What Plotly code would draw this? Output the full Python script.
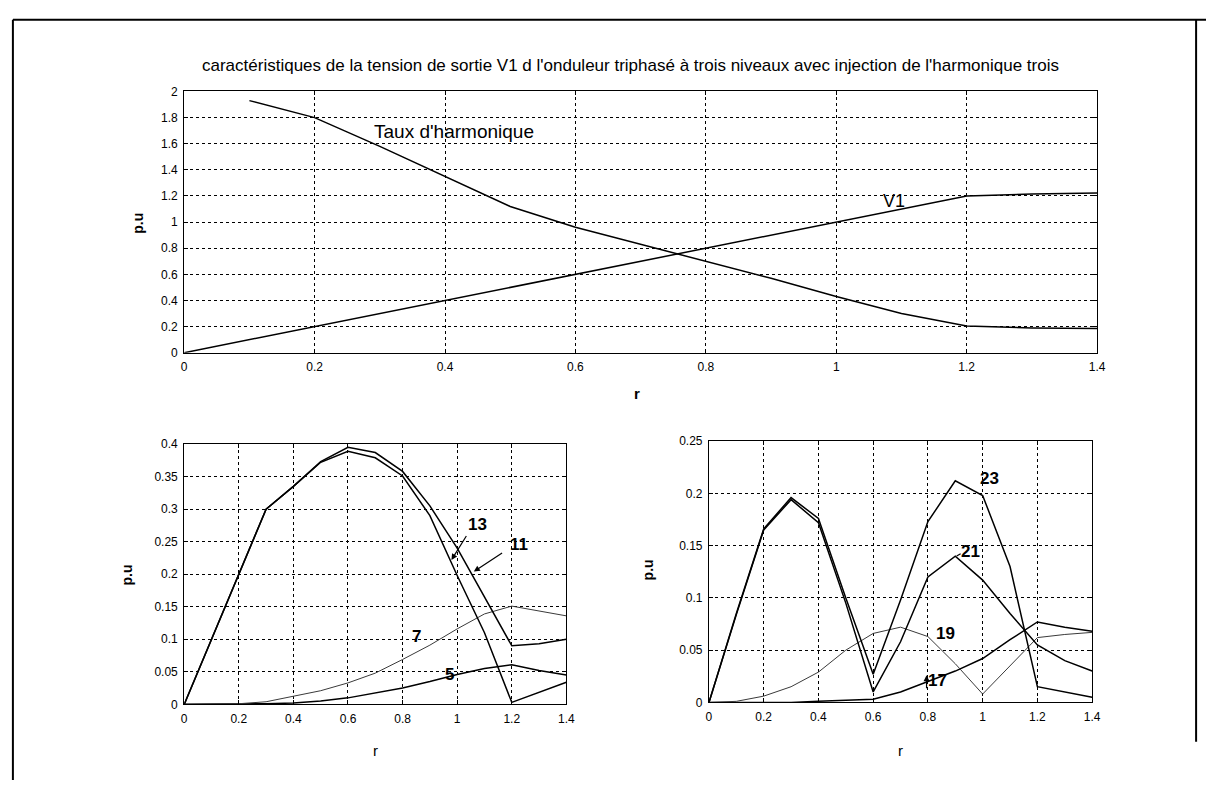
import plotly.graph_objects as go

W, H = 1215, 787

# Modulation index r (common abscissa)
r = [0.0, 0.1, 0.2, 0.3, 0.4, 0.5, 0.6, 0.7, 0.8, 0.9, 1.0, 1.1, 1.2, 1.3, 1.4]
r_taux = r[1:]

# Fundamental V1 and harmonic distortion rate (p.u)
v1 = [0.0, 0.1, 0.2, 0.3, 0.4, 0.5, 0.6, 0.7, 0.8, 0.9, 1.0, 1.1, 1.2, 1.215, 1.222]
taux = [1.93, 1.80, 1.58, 1.35, 1.12, 0.96, 0.83, 0.70, 0.57, 0.43, 0.30, 0.205, 0.19, 0.185]

# Harmonics 5, 7, 11, 13 (p.u)
h5 = [0, 0, 0, 0.001, 0.002, 0.005, 0.010, 0.017, 0.025, 0.035, 0.046, 0.055, 0.061, 0.052, 0.045]
h7 = [0, 0, 0.001, 0.004, 0.013, 0.021, 0.033, 0.048, 0.069, 0.091, 0.116, 0.139, 0.151, 0.144, 0.136]
h11 = [0, 0.100, 0.199, 0.300, 0.335, 0.373, 0.395, 0.387, 0.358, 0.305, 0.240, 0.165, 0.090, 0.093, 0.100]
h13 = [0, 0.100, 0.199, 0.300, 0.335, 0.372, 0.389, 0.379, 0.351, 0.290, 0.198, 0.110, 0.003, 0.018, 0.034]

# Harmonics 17, 19, 21, 23 (p.u)
h17 = [0, 0, 0, 0, 0.001, 0.002, 0.003, 0.010, 0.020, 0.030, 0.042, 0.060, 0.077, 0.072, 0.068]
h19 = [0, 0.001, 0.006, 0.015, 0.029, 0.050, 0.066, 0.072, 0.063, 0.037, 0.008, 0.035, 0.062, 0.065, 0.067]
h21 = [0, 0.084, 0.165, 0.194, 0.172, 0.095, 0.010, 0.058, 0.120, 0.140, 0.117, 0.085, 0.055, 0.040, 0.030]
h23 = [0, 0.085, 0.166, 0.196, 0.176, 0.100, 0.027, 0.098, 0.173, 0.212, 0.198, 0.130, 0.015, 0.010, 0.005]

# Tick values and labels
xt = [0, 0.2, 0.4, 0.6, 0.8, 1.0, 1.2, 1.4]
xt_lab = ["0", "0.2", "0.4", "0.6", "0.8", "1", "1.2", "1.4"]
yt_top = [0, 0.2, 0.4, 0.6, 0.8, 1.0, 1.2, 1.4, 1.6, 1.8, 2.0]
yt_top_lab = ["0", "0.2", "0.4", "0.6", "0.8", "1", "1.2", "1.4", "1.6", "1.8", "2"]
yt_bl = [0, 0.05, 0.1, 0.15, 0.2, 0.25, 0.3, 0.35, 0.4]
yt_bl_lab = ["0", "0.05", "0.1", "0.15", "0.2", "0.25", "0.3", "0.35", "0.4"]
yt_br = [0, 0.05, 0.1, 0.15, 0.2, 0.25]
yt_br_lab = ["0", "0.05", "0.1", "0.15", "0.2", "0.25"]

TITLE = ("caractéristiques de la tension de sortie V1 d l'onduleur triphasé "
         "à trois niveaux avec injection de l'harmonique trois")


def px(x):
    return x / W


def py(y):
    return 1 - y / H


FONT = "Arial, Liberation Sans, sans-serif"
BOLD = dict(width=1.5, color="black")
THIN = dict(width=1.0, color="#3a3a3a")

fig = go.Figure()

def line(x, y, ax, style):
    fig.add_trace(go.Scatter(x=x, y=y, mode="lines", line=style,
                             xaxis="x" + ax, yaxis="y" + ax,
                             showlegend=False, hoverinfo="skip"))

line(r, v1, "", BOLD)
line(r_taux, taux, "", BOLD)

line(r, h5, "2", BOLD)
line(r, h7, "2", THIN)
line(r, h11, "2", BOLD)
line(r, h13, "2", BOLD)

line(r, h17, "3", BOLD)
line(r, h19, "3", THIN)
line(r, h21, "3", BOLD)
line(r, h23, "3", BOLD)


def axis_style(domain, rng, tv, tt, anchor):
    return dict(domain=domain, range=rng, anchor=anchor,
                tickvals=tv, ticktext=tt,
                showline=True, linecolor="black", linewidth=1, mirror="ticks",
                ticks="inside", ticklen=4, tickcolor="black",
                showgrid=True, gridcolor="black", gridwidth=1, griddash="3px,3px",
                zeroline=False, ticklabelstandoff=3,
                tickfont=dict(family=FONT, size=12, color="black"))


fig.update_layout(
    width=W, height=H,
    margin=dict(l=0, r=0, t=0, b=0),
    paper_bgcolor="white", plot_bgcolor="white",
    xaxis=axis_style([px(183), px(1105)], [0, 1.4], xt, xt_lab, "y"),
    yaxis=axis_style([py(352), py(86)], [0, 2], yt_top, yt_top_lab, "x"),
    xaxis2=axis_style([px(183), px(569)], [0, 1.4], xt, xt_lab, "y2"),
    yaxis2=axis_style([py(710), py(445)], [0, 0.4], yt_bl, yt_bl_lab, "x2"),
    xaxis3=axis_style([px(713), px(1100)], [0, 1.4], xt, xt_lab, "y3"),
    yaxis3=axis_style([py(708), py(442)], [0, 0.25], yt_br, yt_br_lab, "x3"),
)

ann = []

def paper_text(x, y, text, size, bold=False, angle=0):
    ann.append(dict(x=px(x), y=py(y), xref="paper", yref="paper", text=text,
                    showarrow=False, textangle=angle, xanchor="center", yanchor="middle",
                    font=dict(family=FONT, size=size, color="black",
                              weight="bold" if bold else "normal")))

def data_text(ax, x, y, text, size=17, bold=True):
    ann.append(dict(x=x, y=y, xref="x" + ax, yref="y" + ax, text=text,
                    showarrow=False, xanchor="center", yanchor="middle",
                    font=dict(family=FONT, size=size, color="black",
                              weight="bold" if bold else "normal")))

def arrow(ax, x0, y0, x1, y1, head=2):
    ann.append(dict(x=x1, y=y1, ax=x0, ay=y0, xref="x" + ax, yref="y" + ax,
                    axref="x" + ax, ayref="y" + ax, text="", showarrow=True,
                    arrowhead=head, arrowsize=1, arrowwidth=1.2, arrowcolor="black"))

paper_text(634, 60, TITLE, 17)
paper_text(136, 220, "p.u", 14, bold=True, angle=-90)
paper_text(125, 578, "p.u", 14, bold=True, angle=-90)
paper_text(651, 573, "p.u", 14, bold=True, angle=-90)
paper_text(640, 393, "r", 15, bold=True)
paper_text(376, 757, "r", 15)
paper_text(906, 757, "r", 15)

data_text("", 0.414, 1.69, "Taux d'harmonique", size=19, bold=False)
data_text("", 1.088, 1.165, "V1", size=18, bold=False)

data_text("2", 1.073, 0.277, "13")
data_text("2", 1.228, 0.245, "11")
data_text("2", 0.851, 0.104, "7")
data_text("2", 0.971, 0.046, "5")
arrow("2", 1.037, 0.261, 0.979, 0.222)
arrow("2", 1.17, 0.234, 1.061, 0.204)

data_text("3", 1.024, 0.214, "23")
data_text("3", 0.955, 0.144, "21")
data_text("3", 0.866, 0.066, "19")
data_text("3", 0.835, 0.021, "17")
arrow("3", 0.925, 0.143, 0.905, 0.140, head=0)
arrow("3", 0.795, 0.012, 0.795, 0.026, head=2)

fig.update_layout(annotations=ann)

# Outer frame of the figure
frame = dict(type="line", xref="paper", yref="paper", line=dict(color="black", width=2))
fig.update_layout(shapes=[
    dict(frame, x0=px(10), y0=py(13), x1=px(1215), y1=py(13)),
    dict(frame, x0=px(10), y0=py(13), x1=px(10), y1=py(787)),
    dict(frame, x0=px(1205), y0=py(13), x1=px(1205), y1=py(748)),
])

fig.write_html("out.html")
